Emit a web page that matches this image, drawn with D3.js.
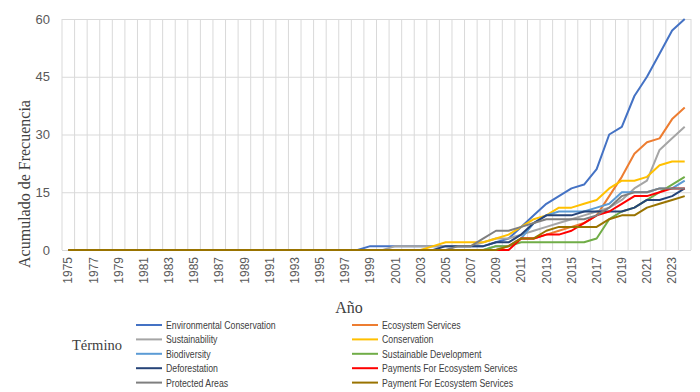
<!DOCTYPE html>
<html>
<head>
<meta charset="utf-8">
<script src="https://cdn.jsdelivr.net/npm/d3@7"></script>
<style>
  body { margin: 0; background: #fff; }
  svg { display: block; }
</style>
</head>
<body>
<div id="chart"></div>
<script>
// Years on the category axis
const years = [1975, 1976, 1977, 1978, 1979, 1980, 1981, 1982, 1983, 1984,
    1985, 1986, 1987, 1988, 1989, 1990, 1991, 1992, 1993, 1994,
    1995, 1996, 1997, 1998, 1999, 2000, 2001, 2002, 2003, 2004,
    2005, 2006, 2007, 2008, 2009, 2010, 2011, 2012, 2013, 2014,
    2015, 2016, 2017, 2018, 2019, 2020, 2021, 2022, 2023, 2024];

const yTicks = [0, 15, 30, 45, 60];

// Series names (legend order)
const terms = ["Environmental Conservation", "Ecosystem Services", "Sustainability", "Conservation",
    "Biodiversity", "Sustainable Development", "Deforestation", "Payments For Ecosystem Services",
    "Protected Areas", "Payment For Ecosystem Services"];

const colors = ["#4472C4", "#ED7D31", "#A5A5A5", "#FFC000", "#5B9BD5", "#70AD47",
    "#264478", "#FF0000", "#7F7F7F", "#997300"];

// Cumulative frequency per year, 1975 -> 2024
const environmentalConservation = [0,0,0,0,0,0,0,0,0,0,0,0,0,0,0,0,0,0,0,0,0,0,0,
    0,1,1,1,1,1,1,1,1,1,1,2,3,6,9,12,14,16,17,21,30,32,40,45,51,57,60];
const ecosystemServices = [0,0,0,0,0,0,0,0,0,0,0,0,0,0,0,0,0,0,0,0,0,0,0,
    0,0,0,0,0,0,0,0,0,0,0,0,1,3,3,4,5,6,7,9,14,19,25,28,29,34,37];
const sustainability = [0,0,0,0,0,0,0,0,0,0,0,0,0,0,0,0,0,0,0,0,0,0,0,
    0,0,0,1,1,1,1,1,1,1,2,3,3,4,5,6,7,8,9,10,11,13,16,18,26,29,32];
const conservation = [0,0,0,0,0,0,0,0,0,0,0,0,0,0,0,0,0,0,0,0,0,0,0,
    0,0,0,0,0,0,1,2,2,2,2,3,4,6,8,9,11,11,12,13,16,18,18,19,22,23,23];
const biodiversity = [0,0,0,0,0,0,0,0,0,0,0,0,0,0,0,0,0,0,0,0,0,0,0,
    0,0,0,0,0,0,0,0,0,0,0,1,1,3,7,9,10,10,10,11,12,15,15,15,16,16,18];
const sustainableDevelopment = [0,0,0,0,0,0,0,0,0,0,0,0,0,0,0,0,0,0,0,0,0,0,0,
    0,0,0,0,0,0,0,0,0,0,0,1,1,2,2,2,2,2,2,3,8,10,11,13,15,17,19];
const deforestation = [0,0,0,0,0,0,0,0,0,0,0,0,0,0,0,0,0,0,0,0,0,0,0,
    0,0,0,0,0,0,0,1,1,1,1,2,2,4,7,9,9,9,10,10,10,10,11,13,13,14,16];
const paymentsForES = [0,0,0,0,0,0,0,0,0,0,0,0,0,0,0,0,0,0,0,0,0,0,0,
    0,0,0,0,0,0,0,0,0,0,0,0,0,3,3,4,4,5,7,9,10,12,14,14,15,16,16];
const protectedAreas = [0,0,0,0,0,0,0,0,0,0,0,0,0,0,0,0,0,0,0,0,0,0,0,
    0,0,0,0,0,0,0,0,1,1,3,5,5,6,7,8,8,8,8,9,11,14,15,15,16,16,16];
const paymentForES = [0,0,0,0,0,0,0,0,0,0,0,0,0,0,0,0,0,0,0,0,0,0,0,
    0,0,0,0,0,0,0,0,0,0,0,0,1,3,3,5,6,6,6,6,8,9,9,11,12,13,14];

const seriesValues = [environmentalConservation, ecosystemServices, sustainability, conservation,
    biodiversity, sustainableDevelopment, deforestation, paymentsForES, protectedAreas, paymentForES];

function createLineChart(containerId) {
    const width = 700;
    const height = 392;
    const margin = { top: 19, right: 9, bottom: 142, left: 62 };
    const innerWidth = width - margin.left - margin.right;
    const innerHeight = height - margin.top - margin.bottom;

    const svg = d3.select("#" + containerId)
        .append("svg")
        .attr("width", width)
        .attr("height", height);

    const g = svg.append("g")
        .attr("transform", `translate(${margin.left},${margin.top})`);

    // Category scale, points sit in the middle of each band
    const x = d3.scaleBand()
        .domain(years)
        .range([0, innerWidth])
        .padding(0);

    const y = d3.scaleLinear()
        .domain([0, 60])
        .range([innerHeight, 0]);

    const cx = d => x(d) + x.bandwidth() / 2;

    // Vertical gridlines on band edges
    const edges = years.map(d => x(d)).concat([innerWidth]);
    g.append("g")
        .selectAll("line")
        .data(edges)
        .enter()
        .append("line")
        .attr("x1", d => d)
        .attr("x2", d => d)
        .attr("y1", 0)
        .attr("y2", innerHeight)
        .attr("stroke", "#d9d9d9")
        .attr("stroke-width", 1);

    // Y axis with horizontal gridlines
    const yAxis = g.append("g")
        .call(d3.axisLeft(y).tickValues(yTicks).tickSize(-innerWidth).tickPadding(12));
    yAxis.select(".domain").remove();
    yAxis.selectAll(".tick line").attr("stroke", "#d9d9d9");
    yAxis.selectAll(".tick text")
        .attr("fill", "#595959")
        .style("font-family", "'Liberation Sans', Arial, sans-serif")
        .style("font-size", "13px");

    // X axis, every other year, rotated
    const xAxis = g.append("g")
        .attr("transform", `translate(0,${innerHeight})`)
        .call(d3.axisBottom(x).tickValues(years.filter((d, i) => i % 2 === 0)).tickSize(0));
    xAxis.select(".domain").remove();
    xAxis.selectAll(".tick text")
        .attr("fill", "#595959")
        .style("font-family", "'Liberation Sans', Arial, sans-serif")
        .style("font-size", "12px")
        .style("text-anchor", "end")
        .attr("transform", "rotate(-90)")
        .attr("x", -7)
        .attr("y", 0)
        .attr("dy", "0.35em");

    // Lines
    const line = d3.line()
        .x((d, i) => cx(years[i]))
        .y(d => y(d));

    g.append("g")
        .selectAll("path")
        .data(seriesValues)
        .enter()
        .append("path")
        .attr("d", d => line(d))
        .attr("fill", "none")
        .attr("stroke", (d, i) => colors[i])
        .attr("stroke-width", 2)
        .attr("stroke-linejoin", "round");

    // Axis titles
    svg.append("text")
        .attr("transform", "translate(30,184) rotate(-90)")
        .attr("text-anchor", "middle")
        .style("font-family", "'Liberation Serif', 'Times New Roman', serif")
        .style("font-size", "16px")
        .attr("fill", "#404040")
        .text("Acumulado de Frecuencia");

    svg.append("text")
        .attr("x", 349)
        .attr("y", 313)
        .attr("text-anchor", "middle")
        .style("font-family", "'Liberation Serif', 'Times New Roman', serif")
        .style("font-size", "16px")
        .attr("fill", "#404040")
        .text("Año");

    // Legend
    svg.append("text")
        .attr("x", 72)
        .attr("y", 350)
        .style("font-family", "'Liberation Serif', 'Times New Roman', serif")
        .style("font-size", "14.5px")
        .attr("fill", "#404040")
        .text("Término");

    const legend = svg.append("g");
    const items = legend.selectAll("g")
        .data(terms)
        .enter()
        .append("g")
        .attr("transform", (d, i) => `translate(${i % 2 === 0 ? 136 : 352},${325 + Math.floor(i / 2) * 14.4})`);

    items.append("line")
        .attr("x1", 0)
        .attr("x2", 26)
        .attr("stroke", (d, i) => colors[i])
        .attr("stroke-width", 2);

    // narrow the sans text to match the condensed legend labels
    items.append("text")
        .attr("transform", "translate(30,0) scale(0.76,1)")
        .attr("dy", "0.35em")
        .style("font-family", "'Liberation Sans', sans-serif")
        .style("font-size", "11.5px")
        .attr("fill", "#404040")
        .text(d => d);
}

createLineChart("chart");
</script>
</body>
</html>
